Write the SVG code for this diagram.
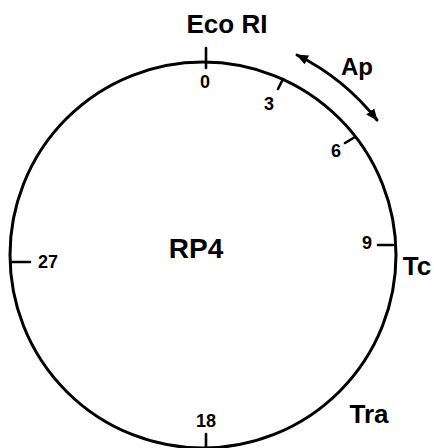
<svg xmlns="http://www.w3.org/2000/svg" width="434" height="448" viewBox="0 0 434 448">
<style>
.ln{fill:none;stroke:#000;stroke-width:3;stroke-linecap:round}
.tk{fill:none;stroke:#000;stroke-width:2.6;stroke-linecap:round}
text{font-family:"Liberation Sans",Arial,sans-serif;font-weight:bold;fill:#000}
.lbl{font-size:26px}
.num{font-size:18px;text-anchor:middle}
</style>
<defs>
<marker id="ah" viewBox="0 0 12 10" refX="11" refY="5" markerWidth="12" markerHeight="10" markerUnits="userSpaceOnUse" orient="auto-start-reverse">
<path d="M0,0 L12,5 L0,10 Z" fill="#000"/>
</marker>
</defs>
<rect width="434" height="448" fill="#fff"/>
<g id="plasmid">
<circle class="ln" cx="203" cy="255" r="193"/>
<text x="196" y="258" font-size="28" text-anchor="middle">RP4</text>
</g>
<g id="ticks">
<line class="tk" x1="206" y1="48" x2="206" y2="68"/>
<line class="tk" x1="278" y1="89" x2="283" y2="79"/>
<line class="tk" x1="345" y1="143" x2="355" y2="137"/>
<line class="tk" x1="378" y1="245" x2="393" y2="245"/>
<line class="tk" x1="11" y1="262" x2="30" y2="262"/>
<line class="tk" x1="206" y1="434" x2="206" y2="448"/>
<text class="num" x="205" y="88">0</text>
<text class="num" x="269" y="110">3</text>
<text class="num" x="336" y="157">6</text>
<text class="num" x="367" y="249" font-size="16">9</text>
<text class="num" x="48" y="268" font-size="21">27</text>
<text class="num" x="206" y="427">18</text>
</g>
<g id="ecori"><text class="lbl" x="227" y="33" text-anchor="middle">Eco RI</text></g>
<g id="ap"><text x="357" y="75" font-size="24" text-anchor="middle">Ap</text></g>
<g id="tc"><text class="lbl" x="417" y="275" font-size="27" text-anchor="middle">Tc</text></g>
<g id="tra"><text class="lbl" x="369" y="423" font-size="27" text-anchor="middle">Tra</text></g>
<g id="connectors">
<path class="ln" d="M297,55 A235,235 0 0 1 377,120" marker-start="url(#ah)" marker-end="url(#ah)"/>
</g>
</svg>
